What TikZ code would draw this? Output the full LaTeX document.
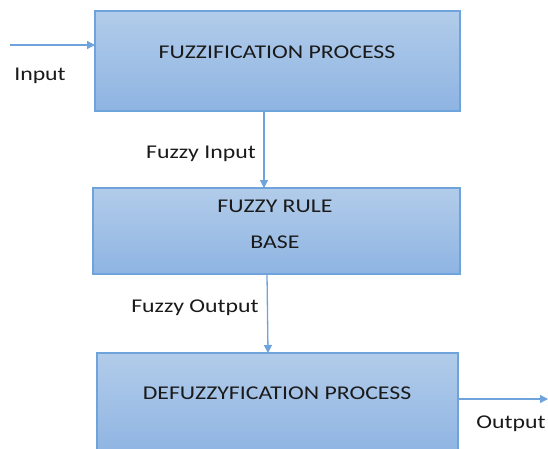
\documentclass[tikz,border=0pt]{standalone}
\usepackage{fontspec}
\setmainfont{Carlito}
\usetikzlibrary{arrows.meta}
\definecolor{boxtop}{HTML}{B2CCEA}
\definecolor{boxbot}{HTML}{8EB4E2}
\definecolor{edge}{HTML}{6FA3DB}
\definecolor{txt}{HTML}{1A1A1A}
\newcommand{\wtxt}[1]{\scalebox{1.22}[1]{#1}}
\tikzset{
  blk/.style={draw=edge, line width=1.3pt, top color=boxtop, bottom color=boxbot},
  lbl/.style={text=txt, font=\fontsize{19.5}{22}\selectfont, inner sep=0pt},
  con/.style={draw=edge, line width=1.3pt, -{Triangle[length=8pt,width=8pt]}}
}
\begin{document}
\begin{tikzpicture}[x=1pt,y=-1pt]
\useasboundingbox (0,0) rectangle (548,449);
\path[blk] (95,11) rectangle (460,111);
\path[blk] (93,188) rectangle (460,274);
\path[blk] (97,353) rectangle (458,455);
\coordinate (b1top) at (95,45);
\coordinate (b1bot) at (264,111);
\coordinate (b2top) at (264,188);
\coordinate (b2bot) at (267,274);
\coordinate (b3top) at (268,353);
\coordinate (b3right) at (458,399);
\coordinate (inS) at (10,45);
\coordinate (outE) at (548,399);
\node[lbl] (t1) at (277,52) {\wtxt{FUZZIFICATION PROCESS}};
\node[lbl] (t2) at (275,206) {\wtxt{FUZZY RULE}};
\node[lbl] (t2b) at (275,242) {\wtxt{BASE}};
\node[lbl] (t3) at (277,393) {\wtxt{DEFUZZYFICATION PROCESS}};
\node[lbl] (lin) at (40,76) {\wtxt{Input}};
\node[lbl] (lfi) at (201,154) {\wtxt{Fuzzy Input}};
\node[lbl] (lfo) at (195,308) {\wtxt{Fuzzy Output}};
\node[lbl] (lout) at (511,424) {\wtxt{Output}};
\draw[con] (inS) -- (b1top);
\draw[con] (b1bot) -- (b2top);
\draw[con] (b2bot) -- (b3top);
\draw[con] (b3right) -- (outE);
\end{tikzpicture}
\end{document}
